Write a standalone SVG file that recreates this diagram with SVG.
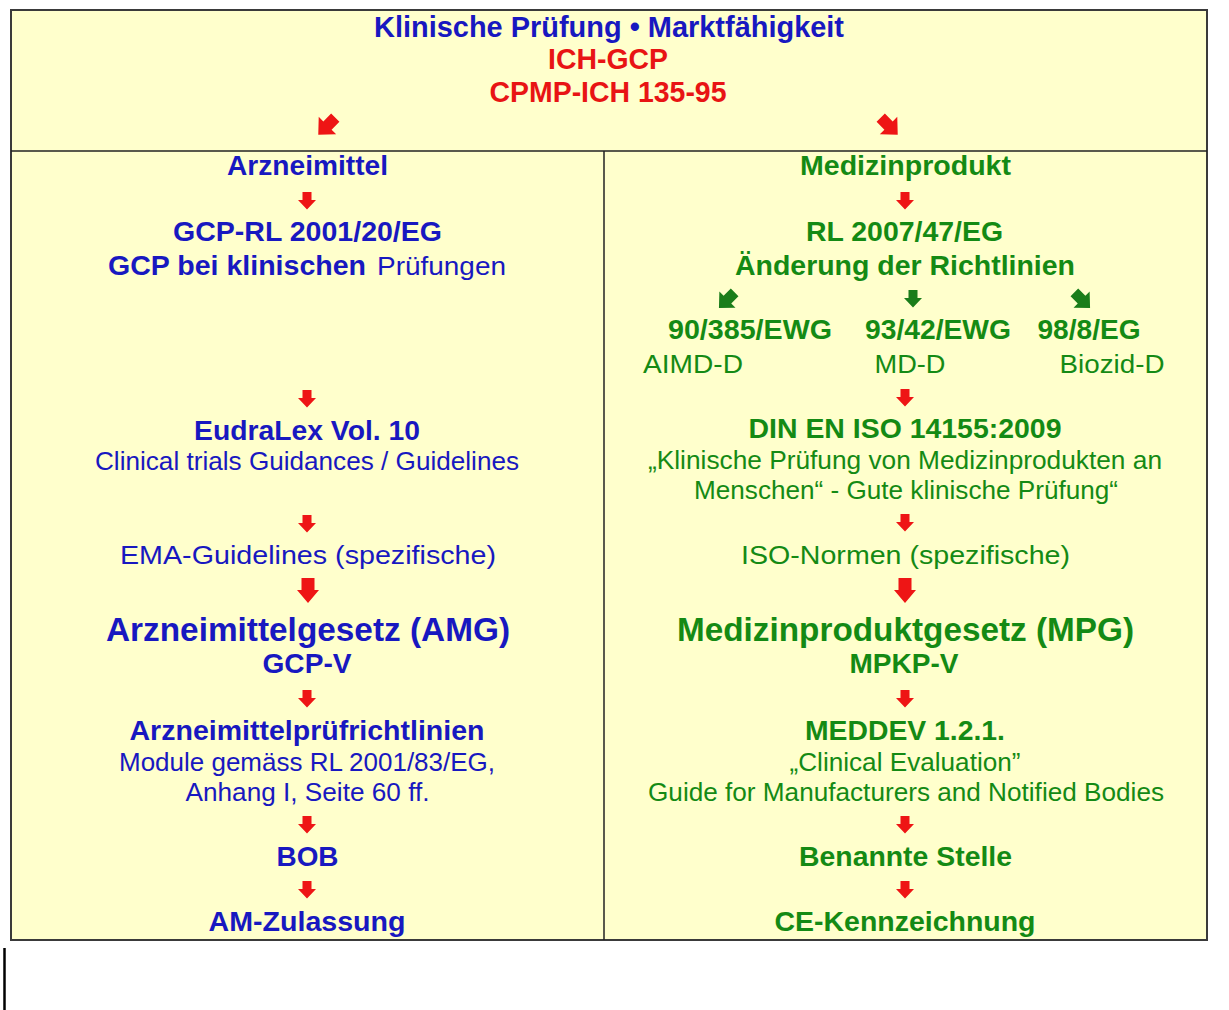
<svg xmlns="http://www.w3.org/2000/svg" xmlns:xlink="http://www.w3.org/1999/xlink" width="1229" height="1010" viewBox="0 0 1229 1010">
<style>
.t{font-family:"Liberation Sans",Arial,Helvetica,sans-serif;text-anchor:middle}
.st{text-anchor:start}
.b{font-weight:bold}
.bl{fill:#1818c0}
.gr{fill:#148a14}
.rd{fill:#e81414}
.h{font-size:29px}
.m{font-size:28px}
.l{font-size:33px}
.s{font-size:26px}
.ar{fill:#ee1515}
.ag{fill:#1a7d1a}
</style>
<defs>
<path id="sa" d="M-4.5,0 H4.5 V8 H9 L0,17.5 L-9,8 H-4.5 Z"/>
<path id="ba" d="M-6.5,0 H6.5 V12 H11 L0,25 L-11,12 H-6.5 Z"/>
<path id="da" d="M-4.5,-9 H4.5 V-0.5 H9.5 L0,9.5 L-9.5,-0.5 H-4.5 Z"/>
</defs>
<rect x="0" y="0" width="1229" height="1010" fill="#ffffff"/>
<g id="frame">
<rect x="11" y="10" width="1196" height="930" fill="#ffffcc" stroke="#3a3a3a" stroke-width="2"/>
<line x1="11" y1="151" x2="1207" y2="151" stroke="#222" stroke-width="1.5"/>
<line x1="604" y1="151" x2="604" y2="940" stroke="#222" stroke-width="1.5"/>
<line x1="4.5" y1="948" x2="4.5" y2="1010" stroke="#000" stroke-width="2.5"/>
</g>
<g id="header">
<text class="t b h bl" x="609" y="37" textLength="470" lengthAdjust="spacingAndGlyphs">Klinische Prüfung • Marktfähigkeit</text>
<text class="t b h rd" x="608" y="69" textLength="120" lengthAdjust="spacingAndGlyphs">ICH-GCP</text>
<text class="t b h rd" x="608" y="102" textLength="237" lengthAdjust="spacingAndGlyphs">CPMP-ICH 135-95</text>
</g>
<g id="left-column">
<g id="n-arzneimittel"><text class="t b m bl" x="307.5" y="175" textLength="161" lengthAdjust="spacingAndGlyphs">Arzneimittel</text></g>
<g id="n-gcp-rl">
<text class="t b m bl" x="307.5" y="241" textLength="269" lengthAdjust="spacingAndGlyphs">GCP-RL 2001/20/EG</text>
<text class="t st b m bl" x="108" y="275" textLength="258" lengthAdjust="spacingAndGlyphs">GCP bei klinischen</text>
<text class="t st s bl" x="377" y="275" textLength="129" lengthAdjust="spacingAndGlyphs">Prüfungen</text>
</g>
<g id="n-eudralex">
<text class="t b m bl" x="307" y="440" textLength="226" lengthAdjust="spacingAndGlyphs">EudraLex Vol. 10</text>
<text class="t s bl" x="307" y="470" textLength="424" lengthAdjust="spacingAndGlyphs">Clinical trials Guidances / Guidelines</text>
</g>
<g id="n-ema"><text class="t s bl" x="308" y="564" textLength="376" lengthAdjust="spacingAndGlyphs">EMA-Guidelines (spezifische)</text></g>
<g id="n-amg">
<text class="t b l bl" x="308" y="641" textLength="404" lengthAdjust="spacingAndGlyphs">Arzneimittelgesetz (AMG)</text>
<text class="t b m bl" x="307" y="673" textLength="89" lengthAdjust="spacingAndGlyphs">GCP-V</text>
</g>
<g id="n-amprl">
<text class="t b m bl" x="307" y="740" textLength="355" lengthAdjust="spacingAndGlyphs">Arzneimittelprüfrichtlinien</text>
<text class="t s bl" x="307" y="771" textLength="376" lengthAdjust="spacingAndGlyphs">Module gemäss RL 2001/83/EG,</text>
<text class="t s bl" x="307.5" y="801" textLength="244" lengthAdjust="spacingAndGlyphs">Anhang I, Seite 60 ff.</text>
</g>
<g id="n-bob"><text class="t b m bl" x="307.5" y="866" textLength="62" lengthAdjust="spacingAndGlyphs">BOB</text></g>
<g id="n-am-zulassung"><text class="t b m bl" x="307" y="931" textLength="197" lengthAdjust="spacingAndGlyphs">AM-Zulassung</text></g>
</g>
<g id="right-column">
<g id="n-medizinprodukt"><text class="t b m gr" x="905.5" y="175" textLength="211" lengthAdjust="spacingAndGlyphs">Medizinprodukt</text></g>
<g id="n-rl2007">
<text class="t b m gr" x="904.5" y="241" textLength="197" lengthAdjust="spacingAndGlyphs">RL 2007/47/EG</text>
<text class="t b m gr" x="905" y="275" textLength="340" lengthAdjust="spacingAndGlyphs">Änderung der Richtlinien</text>
</g>
<g id="n-aimd">
<text class="t b m gr" x="750" y="339" textLength="164" lengthAdjust="spacingAndGlyphs">90/385/EWG</text>
<text class="t s gr" x="693" y="373" textLength="100" lengthAdjust="spacingAndGlyphs">AIMD-D</text>
</g>
<g id="n-md">
<text class="t b m gr" x="938" y="339" textLength="146" lengthAdjust="spacingAndGlyphs">93/42/EWG</text>
<text class="t s gr" x="910" y="373" textLength="71" lengthAdjust="spacingAndGlyphs">MD-D</text>
</g>
<g id="n-biozid">
<text class="t b m gr" x="1089" y="339" textLength="103" lengthAdjust="spacingAndGlyphs">98/8/EG</text>
<text class="t s gr" x="1112" y="373" textLength="105" lengthAdjust="spacingAndGlyphs">Biozid-D</text>
</g>
<g id="n-din">
<text class="t b m gr" x="905" y="438" textLength="313" lengthAdjust="spacingAndGlyphs">DIN EN ISO 14155:2009</text>
<text class="t s gr" x="905" y="469" textLength="514" lengthAdjust="spacingAndGlyphs">„Klinische Prüfung von Medizinprodukten an</text>
<text class="t s gr" x="906" y="499" textLength="424" lengthAdjust="spacingAndGlyphs">Menschen“ - Gute klinische Prüfung“</text>
</g>
<g id="n-iso"><text class="t s gr" x="905.5" y="564" textLength="329" lengthAdjust="spacingAndGlyphs">ISO-Normen (spezifische)</text></g>
<g id="n-mpg">
<text class="t b l gr" x="905.5" y="641" textLength="457" lengthAdjust="spacingAndGlyphs">Medizinproduktgesetz (MPG)</text>
<text class="t b m gr" x="904" y="673" textLength="109" lengthAdjust="spacingAndGlyphs">MPKP-V</text>
</g>
<g id="n-meddev">
<text class="t b m gr" x="905" y="740" textLength="200" lengthAdjust="spacingAndGlyphs">MEDDEV 1.2.1.</text>
<text class="t s gr" x="905" y="771" textLength="231" lengthAdjust="spacingAndGlyphs">„Clinical Evaluation”</text>
<text class="t s gr" x="906" y="801" textLength="516" lengthAdjust="spacingAndGlyphs">Guide for Manufacturers and Notified Bodies</text>
</g>
<g id="n-benannte"><text class="t b m gr" x="905.5" y="866" textLength="213" lengthAdjust="spacingAndGlyphs">Benannte Stelle</text></g>
<g id="n-ce"><text class="t b m gr" x="905" y="931" textLength="261" lengthAdjust="spacingAndGlyphs">CE-Kennzeichnung</text></g>
</g>
<g id="connectors">
<use xlink:href="#da" class="ar" transform="translate(327,126) rotate(45) scale(1.3)"/>
<use xlink:href="#da" class="ar" transform="translate(889,126) rotate(-45) scale(1.3)"/>
<use xlink:href="#sa" class="ar" x="307" y="192"/>
<use xlink:href="#sa" class="ar" x="307" y="390"/>
<use xlink:href="#sa" class="ar" x="307" y="515"/>
<use xlink:href="#ba" class="ar" x="308" y="578"/>
<use xlink:href="#sa" class="ar" x="307" y="690"/>
<use xlink:href="#sa" class="ar" x="307" y="816"/>
<use xlink:href="#sa" class="ar" x="307" y="881"/>
<use xlink:href="#sa" class="ar" x="905" y="192"/>
<use xlink:href="#da" class="ag" transform="translate(727,300) rotate(45) scale(1.2)"/>
<use xlink:href="#sa" class="ag" x="913" y="290"/>
<use xlink:href="#da" class="ag" transform="translate(1082,300) rotate(-45) scale(1.2)"/>
<use xlink:href="#sa" class="ar" x="905" y="389"/>
<use xlink:href="#sa" class="ar" x="905" y="514"/>
<use xlink:href="#ba" class="ar" x="905" y="578"/>
<use xlink:href="#sa" class="ar" x="905" y="690"/>
<use xlink:href="#sa" class="ar" x="905" y="816"/>
<use xlink:href="#sa" class="ar" x="905" y="881"/>
</g>
</svg>
